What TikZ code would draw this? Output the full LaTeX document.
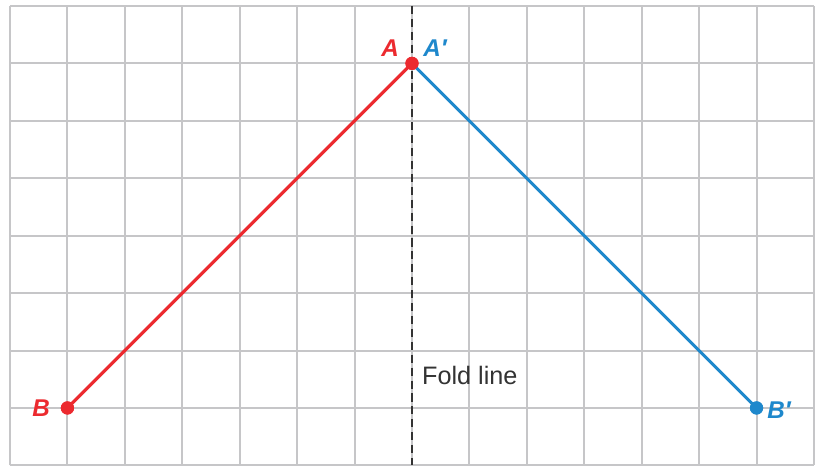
\documentclass[tikz,border=0pt]{standalone}
\usepackage{fontspec}
\setmainfont{Liberation Sans}
\begin{document}
\begin{tikzpicture}[x=1cm,y=1cm,
  gridline/.style={draw=gridgray,line width=1pt},
  foldstyle/.style={draw=foldgray,line width=1.2pt,dash pattern=on 4pt off 2.4pt},
  redseg/.style={draw=segred,line width=1.5pt},
  blueseg/.style={draw=segblue,line width=1.5pt},
  reddot/.style={circle,fill=segred,inner sep=0pt,minimum size=0.23cm},
  bluedot/.style={circle,fill=segblue,inner sep=0pt,minimum size=0.23cm},
  redlbl/.style={text=segred,font=\fontsize{12}{14}\selectfont\bfseries\itshape,inner sep=0pt},
  bluelbl/.style={text=segblue,font=\fontsize{12}{14}\selectfont\bfseries\itshape,inner sep=0pt}
]
\definecolor{gridgray}{HTML}{C6C6C8}
\definecolor{foldgray}{HTML}{333333}
\definecolor{segred}{HTML}{EC2A2F}
\definecolor{segblue}{HTML}{1E88CC}
\useasboundingbox (-0.174,-0.052) rectangle (14.070,8.104);
\fill[white] (-0.174,-0.052) rectangle (14.070,8.104);
\foreach \i in {0,...,14} \draw[gridline] (\i,0) -- (\i,8);
\foreach \j in {0,...,8} \draw[gridline] (0,\j) -- (14,\j);
\coordinate (ftop) at (7,8);
\coordinate (fbot) at (7,0);
\draw[foldstyle] (ftop) -- (fbot);
\node[anchor=west,text=foldgray,font=\fontsize{12.5}{14}\selectfont,inner sep=0pt] (fold) at (7.17,1.57) {Fold line};
\node[reddot] (A) at (7,7) {};
\node[reddot] (B) at (1,1) {};
\node[bluedot] (Bp) at (13,1) {};
\draw[redseg] (A.center) -- (B.center);
\draw[blueseg] (A.center) -- (Bp.center);
\node[reddot] at (7,7) {};
\node[reddot] at (1,1) {};
\node[bluedot] at (13,1) {};
\node[redlbl] (lA) at (6.62,7.26) {A};
\node[bluelbl,anchor=west] (lAp) at (7.19,7.26) {A′};
\node[redlbl] (lB) at (0.54,0.99) {B};
\node[bluelbl,anchor=west] (lBp) at (13.18,0.96) {B′};
\end{tikzpicture}
\end{document}
